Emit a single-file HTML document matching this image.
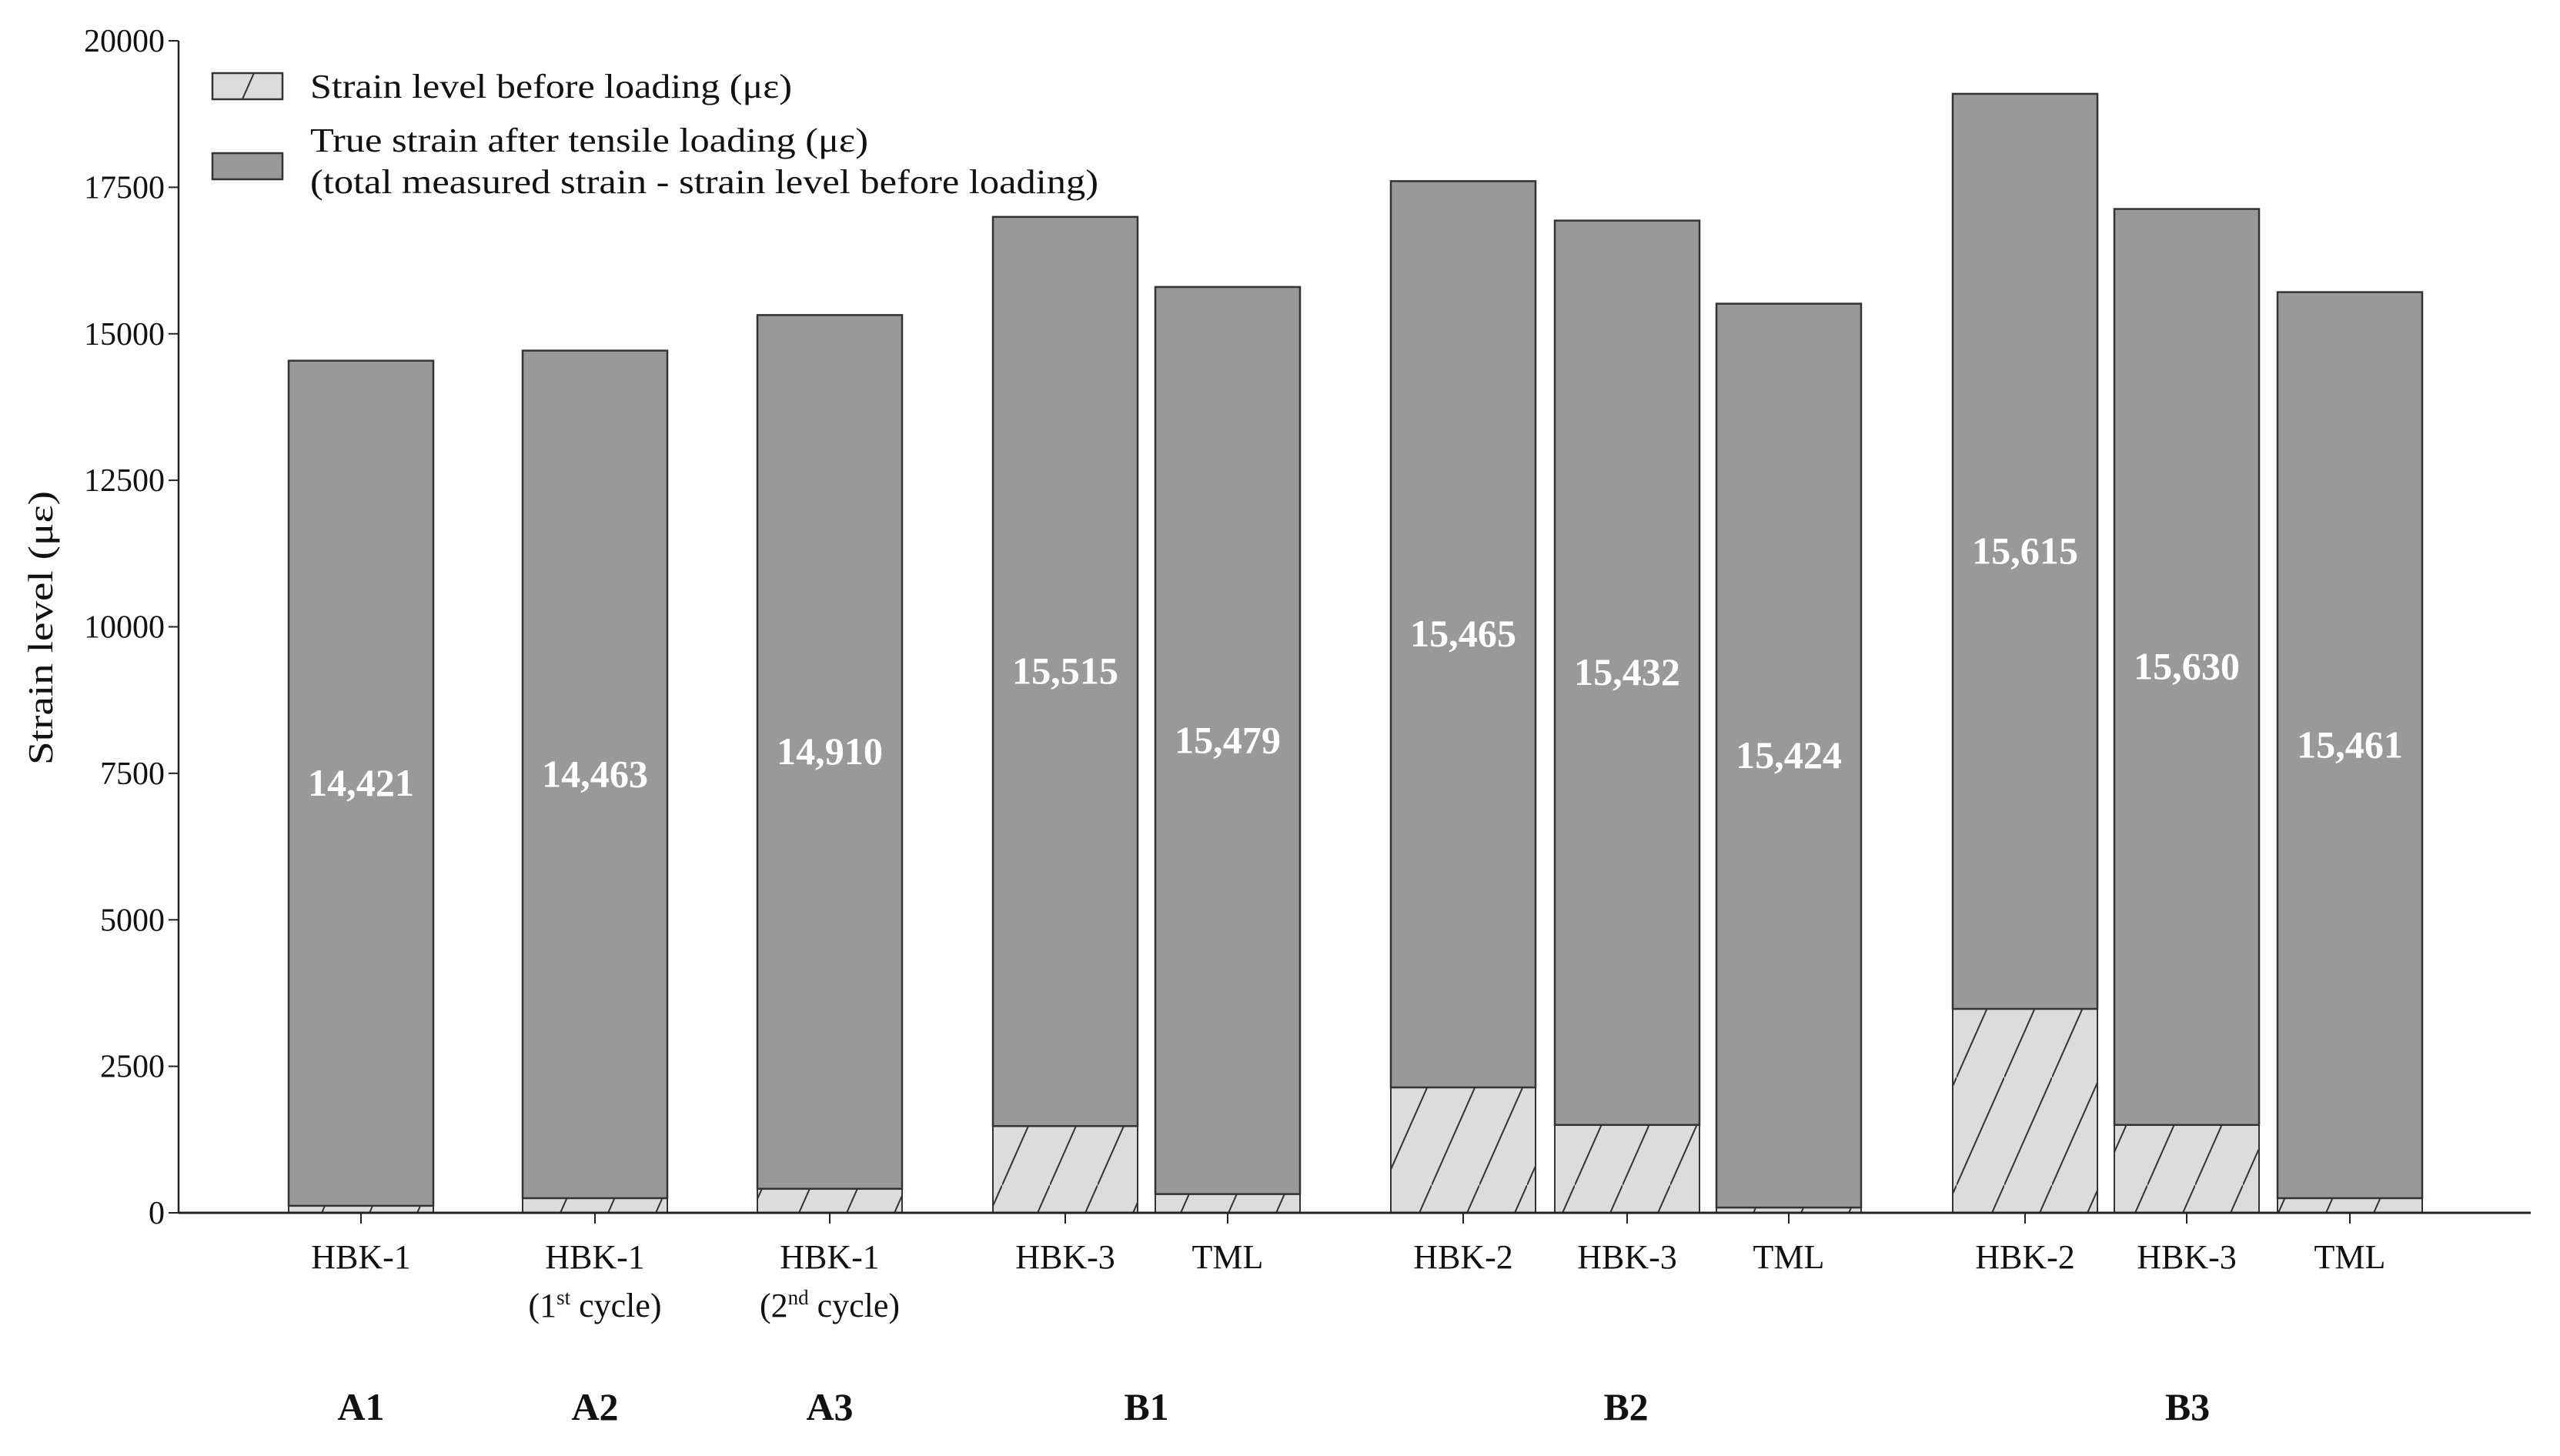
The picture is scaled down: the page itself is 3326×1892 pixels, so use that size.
<!DOCTYPE html>
<html><head><meta charset="utf-8"><style>
html,body{margin:0;padding:0;background:#fff;}
svg{display:block;font-family:"Liberation Serif",serif;}
</style></head><body>
<svg id="chart" width="3326" height="1892" viewBox="0 0 3326 1892" xmlns="http://www.w3.org/2000/svg">
<defs>
<pattern id="hatch" patternUnits="userSpaceOnUse" width="62" height="140">
<rect width="62" height="140" fill="#dcdcdc"/>
<line x1="0" y1="140" x2="62" y2="0" stroke="#333" stroke-width="2"/>
</pattern>
</defs>
<g id="legend">
<rect x="276" y="95" width="91" height="34" fill="url(#hatch)" stroke="#333" stroke-width="2.5"/>
<text x="403" y="127" font-size="44" fill="#111" textLength="626" lengthAdjust="spacingAndGlyphs">Strain level before loading (με)</text>
<rect x="276" y="199" width="91" height="34" fill="#999" stroke="#333" stroke-width="2.5"/>
<text x="403" y="197" font-size="44" fill="#111" textLength="725" lengthAdjust="spacingAndGlyphs">True strain after tensile loading (με)</text>
<text x="403" y="251" font-size="44" fill="#111" textLength="1024" lengthAdjust="spacingAndGlyphs">(total measured strain - strain level before loading)</text>
</g>
<g id="bars"></g>
<g id="axes"></g>
<text transform="translate(68,816) rotate(-90)" text-anchor="middle" font-size="46" fill="#111" textLength="356" lengthAdjust="spacingAndGlyphs">Strain level (με)</text>
</svg>
<script>
const categories = ["HBK-1","HBK-1","HBK-1","HBK-3","TML","HBK-2","HBK-3","TML","HBK-2","HBK-3","TML"];
const subLabels = ["","1|st","2|nd","","","","","","","",""];
const beforeValues = [120,250,410,1480,320,2140,1500,90,3480,1500,250];
const trueValues = [14421,14463,14910,15515,15479,15465,15432,15424,15615,15630,15461];
const valueLabels = ["14,421","14,463","14,910","15,515","15,479","15,465","15,432","15,424","15,615","15,630","15,461"];
const groups = ["A1","A2","A3","B1","B2","B3"];
const groupMembers = [[0],[1],[2],[3,4],[5,6,7],[8,9,10]];
const yTicks = [0,2500,5000,7500,10000,12500,15000,17500,20000];

const NS="http://www.w3.org/2000/svg";
const y0=1576, yTop=53, yMax=20000;
function yScale(v){return y0-(v/yMax)*(y0-yTop);}
const barLefts=[375,679,984,1290,1501,1807,2020,2230,2537,2747,2959];
const bw=188;
function xCenter(i){return barLefts[i]+bw/2;}
function mk(tag,attrs,parent){const e=document.createElementNS(NS,tag);for(const k in attrs)e.setAttribute(k,attrs[k]);parent.appendChild(e);return e;}
const bars=document.getElementById('bars');
const axes=document.getElementById('axes');

categories.forEach((c,i)=>{
  const x=barLefts[i];
  const b=beforeValues[i], t=trueValues[i];
  const r1=mk('rect',{x:x,y:yScale(b),width:bw,height:y0-yScale(b),fill:'url(#hatch)',stroke:'#333','stroke-width':2},bars);
  
  
  const r2=mk('rect',{x:x,y:yScale(b+t),width:bw,height:yScale(b)-yScale(b+t),fill:'#999',stroke:'#333','stroke-width':2.5},bars);
  
  
  const lbl=mk('text',{x:xCenter(i),y:yScale(b+t/2)+16,'text-anchor':'middle','font-size':50,'font-weight':'bold',fill:'#fff',textLength:138,lengthAdjust:'spacingAndGlyphs'},bars);
  lbl.textContent=valueLabels[i];
  
  
  const tk=mk('line',{x1:xCenter(i),x2:xCenter(i),y1:y0,y2:y0+14,stroke:'#222','stroke-width':2},axes);
  
  
  const cl=mk('text',{x:xCenter(i),y:1648,'text-anchor':'middle','font-size':44,fill:'#111'},axes);
  cl.textContent=c;
  
  
  if(subLabels[i]){
    const p=subLabels[i].split('|');
    const s=mk('text',{x:xCenter(i),y:1711,'text-anchor':'middle','font-size':44,fill:'#111'},axes);
    
    
    const a=mk('tspan',{},s);a.textContent='('+p[0];
    const sp=mk('tspan',{'font-size':27,dy:-16},s);sp.textContent=p[1];
    const c2=mk('tspan',{dy:16},s);c2.textContent=' cycle)';
  }
});
groups.forEach((g,k)=>{
  const m=groupMembers[k];
  const cx=(xCenter(m[0])+xCenter(m[m.length-1]))/2;
  const t=mk('text',{x:cx,y:1845,'text-anchor':'middle','font-size':50,'font-weight':'bold',fill:'#111'},axes);
  t.textContent=g;
  
  
});
yTicks.forEach(v=>{
  const y=yScale(v);
  const l=mk('line',{x1:219,x2:232,y1:y,y2:y,stroke:'#222','stroke-width':2},axes);
  
  
  const t=mk('text',{x:214,y:y+14,'text-anchor':'end','font-size':42,fill:'#111'},axes);
  t.textContent=v;
  
  
});
const ya=mk('line',{x1:232,x2:232,y1:yTop,y2:y0,stroke:'#222','stroke-width':2.5},axes);


const xa=mk('line',{x1:232,x2:3288,y1:y0,y2:y0,stroke:'#222','stroke-width':3},axes);


</script>
</body></html>
